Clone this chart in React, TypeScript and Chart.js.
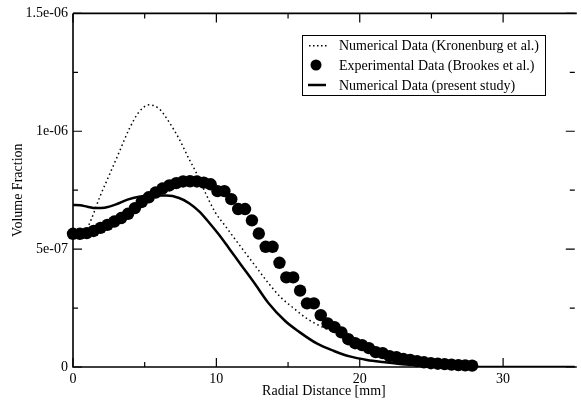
import React, { useEffect, useRef } from "react";
import { Chart, registerables } from "chart.js";

Chart.register(...registerables);

// ---- Data ----
const legendLabels = [
  "Numerical Data (Kronenburg et al.)",
  "Experimental Data (Brookes et al.)",
  "Numerical Data (present study)",
];

const xTickValues = [0, 10, 20, 30];
const xTickLabels = ["0", "10", "20", "30"];
const xMinorTicks = [5, 15, 25];
const yTickValues = [0, 5e-7, 1e-6, 1.5e-6];
const yTickLabels = ["0", "5e-07", "1e-06", "1.5e-06"];
const yMinorTicks = [2.5e-7, 7.5e-7, 1.25e-6];

// Kronenburg et al. (dotted)
const kronX = [0, 0.4, 0.83, 1.3, 1.86, 2.55, 3.24, 3.93, 4.62, 5.31, 6.0, 6.69, 7.38, 8.07, 8.55, 9.24, 9.93, 10.6, 11.7, 12.7, 13.6, 14.5, 15.4, 16.3, 17.3, 18.4, 19.5, 20.5, 21.5, 22.5, 23.5, 24.5, 25.5, 27.0];
const kronY = [0.545e-6, 0.55e-6, 0.57e-6, 0.63e-6, 0.72e-6, 0.817e-6, 0.914e-6, 1.011e-6, 1.083e-6, 1.112e-6, 1.096e-6, 1.04e-6, 0.97e-6, 0.885e-6, 0.83e-6, 0.738e-6, 0.655e-6, 0.6e-6, 0.51e-6, 0.43e-6, 0.358e-6, 0.295e-6, 0.249e-6, 0.206e-6, 0.172e-6, 0.143e-6, 0.11e-6, 0.08e-6, 0.05e-6, 0.03e-6, 0.015e-6, 0.007e-6, 0.003e-6, 0];

// Brookes et al. (experimental points)
const expX = [0, 0.48, 0.96, 1.44, 1.92, 2.4, 2.88, 3.36, 3.84, 4.32, 4.8, 5.28, 5.76, 6.24, 6.72, 7.2, 7.68, 8.16, 8.64, 9.12, 9.6, 10.08, 10.56, 11.04, 11.52, 12.0, 12.48, 12.96, 13.44, 13.92, 14.4, 14.88, 15.36, 15.84, 16.32, 16.8, 17.28, 17.76, 18.24, 18.72, 19.2, 19.68, 20.16, 20.64, 21.12, 21.6, 22.08, 22.56, 23.04, 23.52, 24.0, 24.48, 24.96, 25.44, 25.92, 26.4, 26.88, 27.36, 27.84];
const expY = [0.565e-6, 0.565e-6, 0.568e-6, 0.577e-6, 0.59e-6, 0.603e-6, 0.617e-6, 0.632e-6, 0.65e-6, 0.674e-6, 0.7e-6, 0.72e-6, 0.74e-6, 0.757e-6, 0.77e-6, 0.78e-6, 0.787e-6, 0.788e-6, 0.787e-6, 0.782e-6, 0.775e-6, 0.746e-6, 0.746e-6, 0.712e-6, 0.67e-6, 0.67e-6, 0.622e-6, 0.566e-6, 0.51e-6, 0.51e-6, 0.442e-6, 0.38e-6, 0.38e-6, 0.324e-6, 0.27e-6, 0.27e-6, 0.22e-6, 0.185e-6, 0.169e-6, 0.147e-6, 0.118e-6, 0.101e-6, 0.093e-6, 0.08e-6, 0.063e-6, 0.059e-6, 0.046e-6, 0.042e-6, 0.034e-6, 0.03e-6, 0.025e-6, 0.02e-6, 0.016e-6, 0.014e-6, 0.012e-6, 0.01e-6, 0.008e-6, 0.007e-6, 0.006e-6];

// present study (solid)
const presX = [0, 0.5, 1.0, 1.6, 2.2, 3.0, 3.8, 4.6, 5.5, 6.5, 7.4, 8.1, 8.8, 9.5, 10.2, 10.9, 11.7, 12.7, 13.6, 14.8, 15.8, 17.0, 18.2, 19.3, 20.5, 21.6, 22.8, 23.9, 25.0, 26.0, 27.0, 28.0, 35.0];
const presY = [0.687e-6, 0.686e-6, 0.68e-6, 0.674e-6, 0.676e-6, 0.69e-6, 0.71e-6, 0.722e-6, 0.727e-6, 0.727e-6, 0.717e-6, 0.695e-6, 0.66e-6, 0.612e-6, 0.56e-6, 0.502e-6, 0.435e-6, 0.352e-6, 0.274e-6, 0.195e-6, 0.148e-6, 0.1e-6, 0.068e-6, 0.045e-6, 0.03e-6, 0.021e-6, 0.013e-6, 0.008e-6, 0.004e-6, 0.002e-6, 0.001e-6, 0, 0];

const FONT = "'Liberation Serif', 'Times New Roman', serif";

const zip = (xs: number[], ys: number[]) => xs.map((x, i) => ({ x, y: ys[i] }));

const framePlugin = {
  id: "frame",
  beforeDatasetsDraw(chart: any) {
    const { ctx, chartArea, scales } = chart;
    const xs = scales.x;
    const ys = scales.y;
    const { left, right, top, bottom } = chartArea;
    ctx.save();
    ctx.strokeStyle = "#000";
    ctx.lineWidth = 1.6;
    ctx.beginPath();
    ctx.moveTo(left, top);
    ctx.lineTo(right + 2, top);
    ctx.moveTo(left, top);
    ctx.lineTo(left, bottom);
    ctx.lineTo(right + 2, bottom);
    ctx.stroke();
    ctx.lineWidth = 1.2;
    ctx.beginPath();
    const xt = (v: number, len: number) => {
      const p = xs.getPixelForValue(v);
      ctx.moveTo(p, bottom);
      ctx.lineTo(p, bottom - len);
      ctx.moveTo(p, top);
      ctx.lineTo(p, top + len);
    };
    const yt = (v: number, len: number) => {
      const p = ys.getPixelForValue(v);
      ctx.moveTo(left, p);
      ctx.lineTo(left + len, p);
      ctx.moveTo(right, p);
      ctx.lineTo(right - len, p);
    };
    xTickValues.forEach((v) => xt(v, 9));
    xMinorTicks.forEach((v) => xt(v, 5));
    yTickValues.forEach((v) => yt(v, 9));
    yMinorTicks.forEach((v) => yt(v, 5));
    ctx.stroke();
    ctx.restore();
  },
};

const legendPlugin = {
  id: "insideLegend",
  afterDraw(chart: any) {
    const { ctx } = chart;
    const bx = 302, by = 35, bw = 243, bh = 60;
    ctx.save();
    ctx.fillStyle = "#fff";
    ctx.fillRect(bx, by, bw, bh);
    ctx.strokeStyle = "#000";
    ctx.lineWidth = 1;
    ctx.strokeRect(bx + 0.5, by + 0.5, bw, bh);
    const rows = [45, 65, 85];
    ctx.fillStyle = "#000";
    for (let px = 309; px <= 325; px += 4) {
      ctx.fillRect(px, rows[0], 1.5, 1.5);
    }
    ctx.beginPath();
    ctx.arc(316, rows[1], 5.5, 0, Math.PI * 2);
    ctx.fill();
    ctx.lineWidth = 2.5;
    ctx.beginPath();
    ctx.moveTo(308, rows[2]);
    ctx.lineTo(326, rows[2]);
    ctx.stroke();
    ctx.font = `14px ${FONT}`;
    ctx.textBaseline = "middle";
    ctx.textAlign = "left";
    legendLabels.forEach((t, i) => ctx.fillText(t, 339, rows[i] + 1));
    ctx.restore();
  },
};

export default function App() {
  const ref = useRef<HTMLCanvasElement | null>(null);
  useEffect(() => {
    if (!ref.current) return;
    const chart = new Chart(ref.current, {
      type: "scatter",
      data: {
        datasets: [
          {
            label: legendLabels[1],
            data: zip(expX, expY),
            showLine: false,
            pointRadius: 6.2,
            pointBackgroundColor: "#000",
            pointBorderWidth: 0,
            borderColor: "#000",
            clip: false as any,
            order: 0,
          },
          {
            label: legendLabels[0],
            data: zip(kronX, kronY),
            showLine: true,
            pointRadius: 0,
            borderColor: "#000",
            borderWidth: 1.5,
            borderDash: [1.5, 3],
            cubicInterpolationMode: "monotone",
            order: 1,
          },
          {
            label: legendLabels[2],
            data: zip(presX, presY),
            showLine: true,
            pointRadius: 0,
            borderColor: "#000",
            borderWidth: 2.5,
            cubicInterpolationMode: "monotone",
            order: 2,
          },
        ],
      },
      options: {
        animation: false,
        responsive: false,
        events: [],
        layout: { padding: { top: 11, right: 0, left: 0, bottom: 0 } },
        plugins: {
          legend: { display: false },
          tooltip: { enabled: false },
        },
        scales: {
          x: {
            type: "linear",
            min: 0,
            max: 35,
            grid: { display: false, drawTicks: false },
            border: { display: false },
            afterFit: (s: any) => {
              s.height = 37;
            },
            afterBuildTicks: (s: any) => {
              s.ticks = xTickValues.map((v) => ({ value: v }));
            },
            ticks: {
              color: "#000",
              padding: 4,
              maxRotation: 0,
              font: { family: FONT, size: 14 },
              callback: (_v: any, i: number) => xTickLabels[i],
            },
            title: {
              display: true,
              text: "Radial Distance [mm]",
              color: "#000",
              font: { family: FONT, size: 14 },
              padding: { top: 0, bottom: 4 },
            },
          },
          y: {
            type: "linear",
            min: 0,
            max: 1.5e-6,
            grid: { display: false, drawTicks: false },
            border: { display: false },
            afterFit: (s: any) => {
              s.width = 73;
            },
            afterBuildTicks: (s: any) => {
              s.ticks = yTickValues.map((v) => ({ value: v }));
            },
            ticks: {
              color: "#000",
              padding: 5,
              font: { family: FONT, size: 14 },
              callback: (_v: any, i: number) => yTickLabels[i],
            },
            title: {
              display: true,
              text: "Volume Fraction",
              color: "#000",
              font: { family: FONT, size: 14 },
              padding: { top: 10, bottom: 0 },
            },
          },
        },
      },
      plugins: [framePlugin, legendPlugin],
    });
    return () => chart.destroy();
  }, []);
  return (
    <div style={{ position: "fixed", left: 0, top: 0, width: 581, height: 404, background: "#fff" }}>
      <canvas ref={ref} width={581} height={404} style={{ display: "block" }} />
    </div>
  );
}
